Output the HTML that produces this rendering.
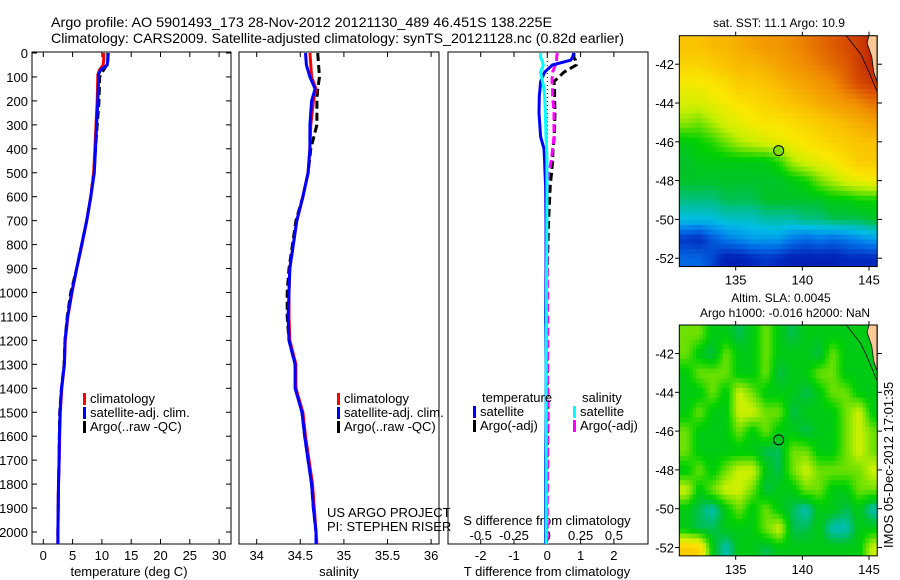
<!DOCTYPE html>
<html><head><meta charset="utf-8">
<style>
html,body{margin:0;padding:0;background:#fff;}
svg{display:block;font-family:"Liberation Sans",sans-serif;}
</style></head>
<body>
<svg id="fig" width="900" height="580" viewBox="0 0 900 580" xmlns="http://www.w3.org/2000/svg">
<text x="51" y="27" font-size="14" textLength="501" lengthAdjust="spacingAndGlyphs">Argo profile: AO 5901493_173 28-Nov-2012 20121130_489 46.451S 138.225E</text>
<text x="51" y="43" font-size="14" textLength="573" lengthAdjust="spacingAndGlyphs">Climatology: CARS2009. Satellite-adjusted climatology: synTS_20121128.nc (0.82d earlier)</text>
<g id="g"></g>
</svg>
<script>
// ---------- data ----------
const depthT = [0,30,50,70,90,100,200,300,400,500,600,700,800,900,1000,1100,1200,1300,1400,1500,1600,1700,1800,1900,2000,2050];
const tempClim = [10.3,10.3,10.2,9.6,9.3,9.3,9.2,9.0,8.8,8.6,8.1,7.4,6.6,5.7,4.9,4.2,3.75,3.6,3.15,2.9,2.8,2.7,2.6,2.55,2.5,2.5];
const tempSat = [11.1,11.0,10.9,9.8,9.4,9.45,9.3,9.1,8.9,8.7,8.1,7.4,6.55,5.7,4.85,4.15,3.7,3.6,3.1,2.85,2.75,2.7,2.6,2.55,2.5,2.5];
const tempArgo = [11.0,11.0,10.8,10.3,9.8,9.6,9.5,9.2,8.9,8.6,8.1,7.4,6.55,5.7,4.7,4.1,3.7,3.55,3.1,2.8,2.75,2.7,2.6,2.55,2.5,2.5];
const depthS = [0,50,100,150,200,300,400,500,600,700,800,900,1000,1100,1200,1300,1400,1500,1600,1700,1800,1900,2000,2050];
const salClim = [34.61,34.62,34.63,34.68,34.65,34.62,34.61,34.59,34.53,34.46,34.42,34.38,34.37,34.37,34.38,34.45,34.45,34.53,34.56,34.6,34.64,34.66,34.68,34.69];
const salSat = [34.56,34.57,34.61,34.67,34.63,34.61,34.61,34.59,34.53,34.46,34.42,34.38,34.37,34.36,34.37,34.44,34.44,34.52,34.55,34.59,34.63,34.65,34.68,34.68];
const salArgo = [34.70,34.71,34.72,34.70,34.69,34.69,34.62,34.59,34.53,34.45,34.41,34.37,34.35,34.35,34.37,34.44,34.45,34.52,34.55,34.59,34.63,34.65,34.68,34.68];
const depthD = [0,20,30,50,80,120,150,180,250,350,400,450,500,550,700,900,1100,1300,1500,1700,1900,2050];
const dTSat = [0.8,0.75,0.7,0.15,-0.08,-0.2,-0.22,-0.24,-0.25,-0.2,-0.1,-0.08,-0.07,-0.05,-0.04,-0.04,-0.05,-0.04,-0.04,-0.05,-0.05,-0.05];
const dTArgo = [0.8,0.8,0.85,0.87,0.5,0.2,0.22,0.22,0.23,0.21,0.17,0.16,0.13,0.09,0.04,0.0,-0.05,0.0,0.02,0.0,-0.02,0.0];
const dSSat = [-0.05,-0.05,-0.04,-0.03,-0.05,-0.035,-0.025,-0.02,-0.015,-0.01,-0.005,-0.003,-0.003,-0.002,-0.003,-0.005,-0.008,-0.008,-0.008,-0.008,-0.008,-0.008];
const dSArgo = [0.075,0.07,0.07,0.06,0.04,0.035,0.04,0.04,0.05,0.05,0.04,0.03,0.01,0.0,-0.005,0.0,0.003,0.003,0.002,0.003,0.0,0.0];
const depthTicks = [0,100,200,300,400,500,600,700,800,900,1000,1100,1200,1300,1400,1500,1600,1700,1800,1900,2000];
const tempTicks = [0,5,10,15,20,25,30];
const salTicks = [34,34.5,35,35.5,36];
const salTickLabels = ["34","34.5","35","35.5","36"];
const dTTicks = [-2,-1,0,1,2];
const dSTicks = [-0.5,-0.25,0,0.25,0.5];
const dSTickLabels = ["-0.5","-0.25","0","0.25","0.5"];
const lonTicks = [135,140,145];
const latTicks = [-42,-44,-46,-48,-50,-52];
const argoLon = 138.225, argoLat = -46.451;
const sstGrid = [
[0.72,0.72,0.74,0.74,0.76,0.78,0.8,0.8,0.82,0.84,0.86,0.88,0.9,0.92,0.95],
[0.68,0.68,0.7,0.72,0.74,0.74,0.76,0.78,0.8,0.82,0.84,0.86,0.88,0.92,0.95],
[0.62,0.62,0.64,0.66,0.7,0.7,0.72,0.74,0.76,0.78,0.8,0.82,0.86,0.9,0.92],
[0.58,0.58,0.6,0.62,0.64,0.66,0.68,0.7,0.72,0.74,0.76,0.78,0.8,0.82,0.85],
[0.52,0.5,0.54,0.58,0.6,0.62,0.64,0.64,0.66,0.68,0.7,0.72,0.74,0.76,0.78],
[0.42,0.44,0.46,0.5,0.54,0.56,0.58,0.6,0.62,0.64,0.66,0.68,0.7,0.72,0.72],
[0.4,0.42,0.42,0.42,0.42,0.42,0.42,0.46,0.54,0.58,0.6,0.62,0.66,0.7,0.7],
[0.4,0.4,0.4,0.4,0.4,0.4,0.4,0.4,0.42,0.44,0.5,0.54,0.58,0.6,0.62],
[0.36,0.36,0.36,0.38,0.38,0.38,0.4,0.4,0.4,0.4,0.4,0.42,0.42,0.44,0.44],
[0.3,0.3,0.3,0.32,0.32,0.32,0.34,0.34,0.34,0.36,0.36,0.38,0.38,0.38,0.4],
[0.14,0.12,0.18,0.22,0.24,0.26,0.26,0.26,0.22,0.2,0.22,0.2,0.22,0.24,0.26],
[0.2,0.2,0.16,0.1,0.1,0.12,0.14,0.12,0.1,0.1,0.1,0.1,0.12,0.12,0.12]];
const slaGrid = [
[0.5,0.5,0.42,0.42,0.38,0.42,0.5,0.42,0.38,0.42,0.42,0.42,0.42,0.42,0.42],
[0.5,0.42,0.38,0.5,0.42,0.42,0.5,0.42,0.42,0.42,0.38,0.5,0.42,0.42,0.42],
[0.42,0.5,0.5,0.5,0.42,0.42,0.5,0.38,0.42,0.42,0.5,0.5,0.42,0.42,0.42],
[0.42,0.42,0.5,0.42,0.57,0.5,0.42,0.42,0.42,0.38,0.42,0.5,0.5,0.42,0.42],
[0.42,0.5,0.42,0.42,0.57,0.57,0.5,0.5,0.38,0.42,0.42,0.42,0.5,0.57,0.42],
[0.5,0.42,0.42,0.42,0.5,0.42,0.5,0.42,0.42,0.38,0.42,0.42,0.5,0.57,0.5],
[0.5,0.42,0.42,0.42,0.42,0.42,0.38,0.38,0.5,0.5,0.42,0.42,0.5,0.57,0.5],
[0.42,0.5,0.42,0.5,0.57,0.57,0.42,0.38,0.5,0.57,0.5,0.5,0.5,0.5,0.57],
[0.57,0.42,0.5,0.57,0.57,0.5,0.38,0.42,0.42,0.5,0.5,0.42,0.42,0.5,0.5],
[0.42,0.38,0.33,0.42,0.5,0.42,0.5,0.42,0.38,0.33,0.42,0.42,0.38,0.42,0.33],
[0.42,0.38,0.38,0.42,0.42,0.42,0.5,0.57,0.38,0.38,0.42,0.33,0.33,0.42,0.42],
[0.7,0.68,0.42,0.33,0.42,0.42,0.38,0.42,0.42,0.42,0.42,0.42,0.42,0.42,0.57]];
const coastLand = [[145.0,-40.53],[145.6,-40.53],[145.6,-42.9],[145.35,-42.4],[145.2,-41.6],[144.85,-40.9]];
const coastLine = [[143.3,-40.53],[144.4,-41.5],[145.0,-42.4],[145.6,-43.4]];

// ---------- helpers ----------
const NS = "http://www.w3.org/2000/svg";
const root = document.getElementById('g');
function mk(tag, attrs, parent){
  const e = document.createElementNS(NS, tag);
  for (const k in attrs) e.setAttribute(k, attrs[k]);
  (parent||root).appendChild(e);
  return e;
}
function txt(x,y,s,anchor,size,parent){
  const t = mk('text',{x:x,y:y,'font-size':size||13,'text-anchor':anchor||'start'},parent);
  t.textContent = s;
  return t;
}
const Y0 = 53, PXD = 0.2395;
const yD = d => Y0 + d*PXD;
const PT = 544;

function panel(left,right,name){
  const r = mk('rect',{x:left,y:Y0-1,width:right-left,height:PT-Y0+1,fill:'none',stroke:'#000','stroke-width':1});
  
  
}
function profile(xf, depths, vals, color, dash, name){
  let d = '';
  for (let i=0;i<depths.length;i++) d += (i?'L':'M') + xf(vals[i]).toFixed(1) + ',' + yD(depths[i]).toFixed(1);
  const p = mk('path',{d:d,fill:'none',stroke:color,'stroke-width':3});
  if (dash) p.setAttribute('stroke-dasharray', dash);
  
  
}
function legend(x,y,color,label,name){
  const g = mk('g',{});
  
  
  mk('rect',{x:x,y:y-10,width:3,height:12,fill:color},g);
  txt(x+7,y,label,'start',13,g);
}

// ---------- panel 1 temperature ----------
const xT = v => 43.3 + v*5.86;
panel(32,231,'temperature-panel');
depthTicks.forEach(d=>{
  const y = yD(d);
  const l = txt(28,y+5,String(d),'end',13);
  
  
  mk('line',{x1:32,x2:37,y1:y,y2:y,stroke:'#000'});
  mk('line',{x1:226,x2:231,y1:y,y2:y,stroke:'#000'});
});
tempTicks.forEach(v=>{
  const x = xT(v);
  mk('line',{x1:x,x2:x,y1:PT,y2:PT-5,stroke:'#000'});
  mk('line',{x1:x,x2:x,y1:Y0-1,y2:Y0+4,stroke:'#000'});
  const l = txt(x,560,String(v),'middle',13);
  
  
});
txt(129,576,'temperature (deg C)','middle',13);
profile(xT, depthT, tempArgo, '#000', '8,4', 'temp-argo-line');
profile(xT, depthT, tempClim, '#f00', null, 'temp-climatology-line');
profile(xT, depthT, tempSat, '#00f', null, 'temp-satellite-line');
legend(83,403,'#f00','climatology','temp-legend-climatology');
legend(83,417,'#00f','satellite-adj. clim.','temp-legend-satellite');
legend(83,431,'#000','Argo(..raw -QC)','temp-legend-argo');

// ---------- panel 2 salinity ----------
const xS = v => 256.7 + (v-34)*87.2;
panel(239,439,'salinity-panel');
salTicks.forEach((v,i)=>{
  const x = xS(v);
  mk('line',{x1:x,x2:x,y1:PT,y2:PT-5,stroke:'#000'});
  mk('line',{x1:x,x2:x,y1:Y0-1,y2:Y0+4,stroke:'#000'});
  const l = txt(x,560,salTickLabels[i],'middle',13);
  
  
});
txt(339,576,'salinity','middle',13);
profile(xS, depthS, salArgo, '#000', '8,4', 'sal-argo-line');
profile(xS, depthS, salClim, '#f00', null, 'sal-climatology-line');
profile(xS, depthS, salSat, '#00f', null, 'sal-satellite-line');
legend(337,403,'#f00','climatology','sal-legend-climatology');
legend(337,417,'#00f','satellite-adj. clim.','sal-legend-satellite');
legend(337,431,'#000','Argo(..raw -QC)','sal-legend-argo');
txt(327,517,'US ARGO PROJECT','start',13);
txt(327,531,'PI: STEPHEN RISER','start',13);

// ---------- panel 3 differences ----------
const xDT = v => 547.3 + v*33.3;
const xDS = v => 547.3 + v*133.2;
panel(448,648,'difference-panel');
mk('line',{x1:xDT(0),x2:xDT(0),y1:Y0,y2:PT,stroke:'#000','stroke-dasharray':'1,3'});
dTTicks.forEach(v=>{
  const x = xDT(v);
  mk('line',{x1:x,x2:x,y1:PT,y2:PT-5,stroke:'#000'});
  mk('line',{x1:x,x2:x,y1:Y0-1,y2:Y0+4,stroke:'#000'});
  const l = txt(x,560,String(v),'middle',13);
  
  
});
dSTicks.forEach((v,i)=>{
  const l = txt(xDS(v),540,dSTickLabels[i],'middle',13);
  
  
});
txt(547,525,'S difference from climatology','middle',13);
txt(547,576,'T difference from climatology','middle',13);
profile(xDT, depthD, dTArgo, '#000', '8,4', 't-diff-argo-line');
profile(xDS, depthD, dSArgo, '#f0f', '8,4', 's-diff-argo-line');
profile(xDT, depthD, dTSat, '#00f', null, 't-diff-satellite-line');
profile(xDS, depthD, dSSat, '#0ff', null, 's-diff-satellite-line');
txt(482,402,'temperature','start',13);
legend(473,416,'#00f','satellite','legend-t-satellite');
legend(473,430,'#000','Argo(-adj)','legend-t-argo');
txt(582,402,'salinity','start',13);
legend(573,416,'#0ff','satellite','legend-s-satellite');
legend(573,430,'#f0f','Argo(-adj)','legend-s-argo');

// ---------- maps ----------
const stops = [[0,[0,0,130]],[0.12,[0,40,190]],[0.22,[0,120,235]],[0.3,[0,190,230]],[0.35,[0,190,150]],[0.4,[0,195,40]],[0.44,[0,210,0]],[0.5,[110,225,0]],[0.56,[200,240,0]],[0.63,[250,232,0]],[0.72,[250,195,0]],[0.82,[240,140,0]],[0.9,[215,75,0]],[1,[160,0,0]]];
function cmap(v){
  for (let i=1;i<stops.length;i++){
    if (v<=stops[i][0]){
      const a=stops[i-1], b=stops[i], t=(v-a[0])/(b[0]-a[0]);
      const c=a[1].map((q,k)=>Math.round(q+(b[1][k]-q)*t));
      return 'rgb('+c.join(',')+')';
    }
  }
  return 'rgb(160,0,0)';
}
const LON0 = 130.77, LON1 = 145.62;
const xLon = lo => 679.3 + (lo-LON0)*13.33;
function drawMap(top, grid, name, markerFill){
  const LAT0 = -40.53;
  const yLat = la => top + (LAT0-la)*19.4;
  const bottom = yLat(-52.43);
  const g = mk('g',{});
  
  
  const clip = mk('clipPath',{id:'clip-'+name},g);
  mk('rect',{x:679.3,y:top,width:xLon(LON1)-679.3,height:bottom-top},clip);
  const cells = mk('g',{'clip-path':'url(#clip-'+name+')'},g);
  const rows = grid.length, cols = grid[0].length, sub = 4;
  const val = (r,c)=>grid[Math.max(0,Math.min(rows-1,r))][Math.max(0,Math.min(cols-1,c))];
  for (let r=0;r<rows;r++) for (let c=0;c<cols;c++) for (let i=0;i<sub;i++) for (let j=0;j<sub;j++){
    const fr = r + (i+0.5)/sub - 0.5, fc = c + (j+0.5)/sub - 0.5;
    const r0 = Math.floor(fr), c0 = Math.floor(fc), tr = fr-r0, tc = fc-c0;
    const v = val(r0,c0)*(1-tr)*(1-tc)+val(r0,c0+1)*(1-tr)*tc+val(r0+1,c0)*tr*(1-tc)+val(r0+1,c0+1)*tr*tc;
    const lo = LON0 + c + j/sub, la = LAT0 - r - i/sub;
    const cell = mk('rect',{x:xLon(lo).toFixed(2),y:yLat(la).toFixed(2),width:(13.33/sub+0.4).toFixed(2),height:(19.4/sub+0.4).toFixed(2),fill:cmap(v)},cells);
    
    
  }
  const land = mk('polygon',{points:coastLand.map(p=>xLon(p[0]).toFixed(1)+','+yLat(p[1]).toFixed(1)).join(' '),fill:'#fac896',stroke:'#000','stroke-width':0.8},cells);
  
  
  mk('polyline',{points:coastLine.map(p=>xLon(p[0]).toFixed(1)+','+yLat(p[1]).toFixed(1)).join(' '),fill:'none',stroke:'#000','stroke-width':0.8},cells);
  mk('rect',{x:679.3,y:top,width:xLon(LON1)-679.3,height:bottom-top,fill:'none',stroke:'#000'},g);
  lonTicks.forEach(lo=>{
    const x = xLon(lo);
    mk('line',{x1:x,x2:x,y1:bottom,y2:bottom+4,stroke:'#000'},g);
    mk('line',{x1:x,x2:x,y1:top,y2:top-4,stroke:'#000'},g);
    const l = txt(x,bottom+18,String(lo),'middle',13,g);
    
    
  });
  latTicks.forEach(la=>{
    const y = yLat(la);
    mk('line',{x1:679.3,x2:675,y1:y,y2:y,stroke:'#000'},g);
    mk('line',{x1:877.7,x2:882,y1:y,y2:y,stroke:'#000'},g);
    const l = txt(674,y+5,String(la),'end',13,g);
    
    
  });
  const m = mk('circle',{cx:xLon(argoLon),cy:yLat(argoLat),r:5,fill:markerFill,stroke:'#000'},g);
  
  
}
drawMap(35.7, sstGrid, 'sst-map', '#7fdf00');
txt(779,27,'sat. SST: 11.1 Argo: 10.9','middle',12);
drawMap(325, slaGrid, 'sla-map', 'none');
txt(781,302,'Altim. SLA: 0.0045','middle',12);
txt(785,317,'Argo h1000: -0.016 h2000: NaN','middle',12);
const rt = txt(0,0,'IMOS 05-Dec-2012 17:01:35','start',13);
rt.setAttribute('transform','translate(893,548) rotate(-90)');


</script>
</body></html>
